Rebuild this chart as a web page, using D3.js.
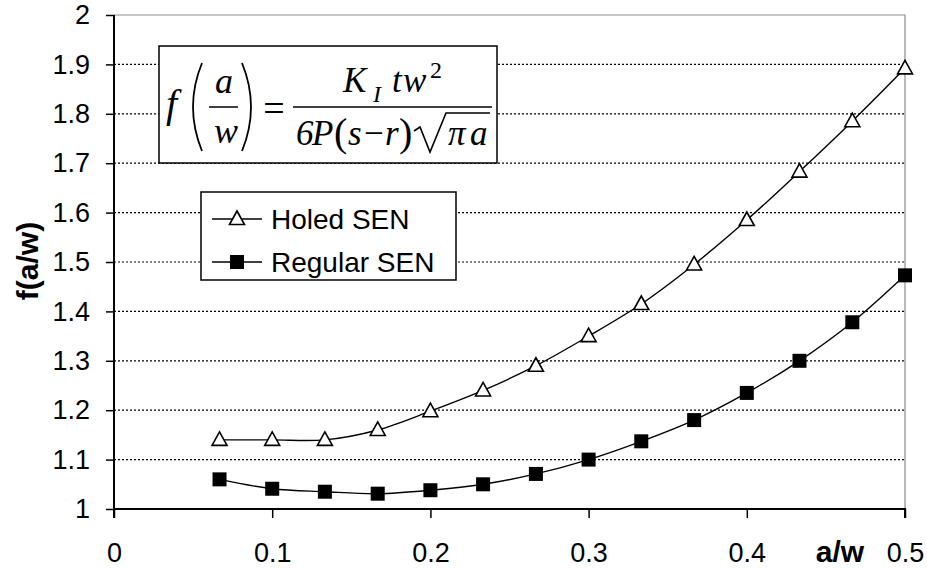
<!DOCTYPE html>
<html>
<head>
<meta charset="utf-8">
<script src="https://cdn.jsdelivr.net/npm/d3@7"></script>
<style>
  body { margin: 0; background: #fff; }
  svg { display: block; }
  .tick-label { font-family: Arial, "Liberation Sans", sans-serif; font-size: 27px; fill: #000; }
  .legend-label { font-family: Arial, "Liberation Sans", sans-serif; font-size: 28px; fill: #000; }
  .math { font-family: "Times New Roman", "Liberation Serif", serif; font-style: italic; font-size: 35px; fill: #000; }
</style>
</head>
<body>
<svg width="927" height="569"></svg>
<script>
/* Data */
const awValues = [0.0667, 0.1, 0.1333, 0.1667, 0.2, 0.2333, 0.2667, 0.3, 0.3333, 0.3667, 0.4, 0.4333, 0.4667, 0.5];
const holedSEN = [1.14, 1.14, 1.14, 1.16, 1.198, 1.24, 1.29, 1.35, 1.415, 1.495, 1.585, 1.683, 1.785, 1.892];
const regularSEN = [1.06, 1.041, 1.035, 1.031, 1.038, 1.05, 1.071, 1.10, 1.137, 1.18, 1.235, 1.30, 1.378, 1.473];
const xTicks = [0, 0.1, 0.2, 0.3, 0.4, 0.5];
const yTicks = [1, 1.1, 1.2, 1.3, 1.4, 1.5, 1.6, 1.7, 1.8, 1.9, 2];
const seriesNames = ['Holed SEN', 'Regular SEN'];

/* Layout */
const svg = d3.select('svg');
const plot = { left: 114, right: 905, top: 15, bottom: 509 };

const x = d3.scaleLinear().domain([0, 0.5]).range([plot.left, plot.right]);
const y = d3.scaleLinear().domain([1, 2]).range([plot.bottom, plot.top]);

/* Grid */
svg.append('g')
  .selectAll('line').data(yTicks.filter(d => d > 1 && d < 2))
  .enter().append('line')
  .attr('x1', plot.left).attr('x2', plot.right)
  .attr('y1', d => y(d)).attr('y2', d => y(d))
  .attr('stroke', '#000').attr('stroke-width', 1.2)
  .attr('stroke-dasharray', '2,2');

// gray plot border on top and right
svg.append('path')
  .attr('d', `M${plot.left},${plot.top}H${plot.right}V${plot.bottom}`)
  .attr('fill', 'none').attr('stroke', '#8c8c8c').attr('stroke-width', 1.2);

/* Axes */
const yAxis = svg.append('g')
  .attr('transform', `translate(${plot.left},0)`)
  .call(d3.axisLeft(y).tickValues(yTicks).tickSize(8).tickPadding(16).tickFormat(d3.format('')));
const xAxis = svg.append('g')
  .attr('transform', `translate(0,${plot.bottom})`)
  .call(d3.axisBottom(x).tickValues(xTicks).tickSize(9).tickPadding(25).tickFormat(d3.format('')));

[yAxis, xAxis].forEach(ax => {
  ax.select('.domain').attr('stroke', '#000').attr('stroke-width', 2);
  ax.selectAll('.tick line').attr('stroke', '#000').attr('stroke-width', 1.5);
  ax.selectAll('.tick text').attr('class', 'tick-label').attr('font-size', null).attr('font-family', null);
});
yAxis.select('.domain').attr('d', `M0,${plot.top}V${plot.bottom + 9}`);
xAxis.select('.domain').attr('d', `M${plot.left},0H${plot.right}V9`);

/* Axis titles */
svg.append('text')
  .attr('transform', 'translate(38,261) rotate(-90)')
  .attr('text-anchor', 'middle')
  .style('font-family', 'Arial, "Liberation Sans", sans-serif')
  .style('font-weight', 'bold').style('font-size', '30px')
  .text('f(a/w)');
svg.append('text')
  .attr('x', 840).attr('y', 562)
  .attr('text-anchor', 'middle')
  .style('font-family', 'Arial, "Liberation Sans", sans-serif')
  .style('font-weight', 'bold').style('font-size', '30px')
  .text('a/w');

/* Lines */
const lineGen = d3.line()
  .x(d => x(d[0])).y(d => y(d[1]))
  .curve(d3.curveCatmullRom.alpha(0.5));

const series = [holedSEN, regularSEN].map((vals, i) => ({
  name: seriesNames[i],
  points: awValues.map((a, j) => [a, vals[j]])
}));

svg.append('g').selectAll('path').data(series)
  .enter().append('path')
  .attr('d', d => lineGen(d.points))
  .attr('fill', 'none').attr('stroke', '#000').attr('stroke-width', 1.4);

/* Markers */
const tri = 'M0,-8L7.5,5.5L-7.5,5.5Z';
const drawMarker = (sel, kind) => {
  if (kind === 0) {
    sel.append('path').attr('d', tri)
      .attr('fill', '#fff').attr('stroke', '#000').attr('stroke-width', 1.6);
  } else {
    sel.append('rect').attr('x', -7).attr('y', -7).attr('width', 14).attr('height', 14)
      .attr('fill', '#000');
  }
};

series.forEach((s, i) => {
  svg.append('g').selectAll('g').data(s.points)
    .enter().append('g')
    .attr('transform', d => `translate(${x(d[0])},${y(d[1])})`)
    .each(function () { drawMarker(d3.select(this), i); });
});

/* Legend */
const legend = svg.append('g');
legend.append('rect')
  .attr('x', 201).attr('y', 192).attr('width', 255).attr('height', 88)
  .attr('fill', '#fff').attr('stroke', '#000').attr('stroke-width', 1.5);
seriesNames.forEach((name, i) => {
  const cy = 219 + i * 43;
  legend.append('line').attr('x1', 212).attr('x2', 262).attr('y1', cy).attr('y2', cy)
    .attr('stroke', '#000').attr('stroke-width', 1.4);
  drawMarker(legend.append('g').attr('transform', `translate(237,${cy})`), i);
  legend.append('text').attr('class', 'legend-label')
    .attr('x', 271).attr('y', cy + 10).text(name);
});

/* Formula box */
const fb = svg.append('g');
fb.append('rect')
  .attr('x', 159).attr('y', 46).attr('width', 338).attr('height', 117)
  .attr('fill', '#fff').attr('stroke', '#000').attr('stroke-width', 1.5);

const mtext = (tx, ty, str, opts = {}) => {
  const t = fb.append('text').attr('class', 'math').attr('x', tx).attr('y', ty).text(str);
  if (opts.size) t.style('font-size', opts.size + 'px');
  if (opts.upright) t.style('font-style', 'normal');
  if (opts.anchor) t.attr('text-anchor', opts.anchor);
  return t;
};

// f ( a / w )
mtext(166, 117, 'f', { size: 40 });
fb.append('path').attr('d', 'M202,63Q184,107 202,151')
  .attr('fill', 'none').attr('stroke', '#000').attr('stroke-width', 1.8);
fb.append('path').attr('d', 'M242,63Q260,107 242,151')
  .attr('fill', 'none').attr('stroke', '#000').attr('stroke-width', 1.8);
mtext(224, 93, 'a', { anchor: 'middle', size: 36 });
fb.append('line').attr('x1', 209).attr('x2', 238).attr('y1', 107).attr('y2', 107)
  .attr('stroke', '#000').attr('stroke-width', 1.5);
mtext(226, 143, 'w', { anchor: 'middle', size: 36 });

// =
mtext(274, 121, '=', { upright: true, anchor: 'middle', size: 38 });

// main fraction
fb.append('line').attr('x1', 293).attr('x2', 492).attr('y1', 107).attr('y2', 107)
  .attr('stroke', '#000').attr('stroke-width', 1.5);
mtext(343, 92, 'K');
mtext(373, 102, 'I', { size: 24 });
mtext(392, 92, 't');
mtext(403, 92, 'w');
mtext(430, 78, '2', { size: 24, upright: true });

// denominator 6P(s - r) sqrt(pi a)
mtext(296, 145, '6');
mtext(312, 145, 'P');
mtext(334, 146, '(', { size: 40, upright: true });
mtext(348, 145, 's');
mtext(364, 145, '\u2212', { upright: true });
mtext(385, 145, 'r');
mtext(399, 146, ')', { size: 40, upright: true });
fb.append('path').attr('d', 'M414,131L420,127L430,152L446,113H490')
  .attr('fill', 'none').attr('stroke', '#000').attr('stroke-width', 1.6);
mtext(448, 145, '\u03c0');
mtext(470, 145, 'a');
</script>
</body>
</html>
